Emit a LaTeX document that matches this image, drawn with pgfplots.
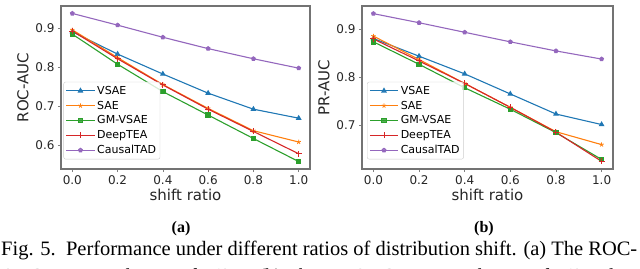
\documentclass[border=0pt]{standalone}
\usepackage{pgfplots}
\pgfplotsset{compat=1.18}
\usepackage{fontspec}
\setmainfont{Liberation Serif}
\newfontfamily\dejavu{DejaVu Sans}
\definecolor{cblue}{HTML}{1F77B4}
\definecolor{corange}{HTML}{FF7F0E}
\definecolor{cgreen}{HTML}{2CA02C}
\definecolor{cred}{HTML}{D62728}
\definecolor{cpurple}{HTML}{9467BD}
\pgfplotsset{
  myax/.style={
    scale only axis,
    xmin=-0.05, xmax=1.05,
    xtick={0,0.2,0.4,0.6,0.8,1.0},
    xticklabel style={/pgf/number format/.cd,fixed,fixed zerofill,precision=1},
    yticklabel style={/pgf/number format/.cd,fixed,fixed zerofill,precision=1},
    /pgf/number format/assume math mode=true,
    tick label style={font=\dejavu\fontsize{12}{13}\selectfont, text=black!85},
    label style={font=\dejavu\fontsize{15}{17}\selectfont, text=black!85},
    xlabel={shift ratio},
    xlabel style={yshift=2pt},
    tick align=outside, tick pos=left,
    major tick length=3pt,
    every tick/.style={gray, line width=0.6pt},
    axis line style={draw=black!55, line width=1.1pt},
    legend cell align=left,
    legend style={draw=black!20, rounded corners=2pt, fill=white, fill opacity=0.8, text opacity=1,
      font=\dejavu\fontsize{11}{12}\selectfont, inner sep=2pt, row sep=1.2pt},
    legend image code/.code={\draw[mark repeat=2,mark phase=2] plot coordinates {(0cm,0cm) (0.5cm,0cm) (1.0cm,0cm)};},
    every axis plot/.append style={line width=1.1pt, mark size=2.3pt},
  }
}
\begin{document}
\begin{tikzpicture}[x=1pt,y=1pt]
\useasboundingbox (0,0) rectangle (640,268);
\clip (0,0) rectangle (640,268);
% (a)
\begin{axis}[myax, at={(61pt,99pt)}, anchor=south west, width=249pt, height=163pt,
  ymin=0.540, ymax=0.957, ytick={0.6,0.7,0.8,0.9}, ylabel={ROC-AUC},
  legend style={at={(0.01,0.535)}, anchor=north west}]
\addplot[cblue, mark=triangle*] coordinates {(0,0.891)(0.2,0.834)(0.4,0.783)(0.6,0.734)(0.8,0.693)(1.0,0.670)};
\addlegendentry{VSAE}
\addplot[corange, mark=star, mark options={line width=0.8pt}] coordinates {(0,0.896)(0.2,0.825)(0.4,0.756)(0.6,0.695)(0.8,0.638)(1.0,0.609)};
\addlegendentry{SAE}
\addplot[cgreen, mark=square*, mark size=2.1pt] coordinates {(0,0.885)(0.2,0.808)(0.4,0.738)(0.6,0.678)(0.8,0.618)(1.0,0.559)};
\addlegendentry{GM-VSAE}
\addplot[cred, mark=+, mark size=3pt, mark options={line width=1pt}] coordinates {(0,0.893)(0.2,0.822)(0.4,0.755)(0.6,0.693)(0.8,0.636)(1.0,0.579)};
\addlegendentry{DeepTEA}
\addplot[cpurple, mark=pentagon*, mark size=1.9pt] coordinates {(0,0.938)(0.2,0.908)(0.4,0.877)(0.6,0.848)(0.8,0.822)(1.0,0.798)};
\addlegendentry{CausalTAD}
\end{axis}
% (b)
\begin{axis}[myax, at={(362pt,99pt)}, anchor=south west, width=251pt, height=163pt,
  ymin=0.608, ymax=0.949, ytick={0.7,0.8,0.9}, ylabel={PR-AUC},
  legend style={at={(0.02,0.535)}, anchor=north west}]
\addplot[cblue, mark=triangle*] coordinates {(0,0.881)(0.2,0.844)(0.4,0.807)(0.6,0.765)(0.8,0.723)(1.0,0.701)};
\addlegendentry{VSAE}
\addplot[corange, mark=star, mark options={line width=0.8pt}] coordinates {(0,0.886)(0.2,0.837)(0.4,0.787)(0.6,0.737)(0.8,0.686)(1.0,0.659)};
\addlegendentry{SAE}
\addplot[cgreen, mark=square*, mark size=2.1pt] coordinates {(0,0.874)(0.2,0.827)(0.4,0.778)(0.6,0.733)(0.8,0.684)(1.0,0.628)};
\addlegendentry{GM-VSAE}
\addplot[cred, mark=+, mark size=3pt, mark options={line width=1pt}] coordinates {(0,0.880)(0.2,0.834)(0.4,0.787)(0.6,0.737)(0.8,0.685)(1.0,0.624)};
\addlegendentry{DeepTEA}
\addplot[cpurple, mark=pentagon*, mark size=1.9pt] coordinates {(0,0.933)(0.2,0.914)(0.4,0.894)(0.6,0.874)(0.8,0.855)(1.0,0.838)};
\addlegendentry{CausalTAD}
\end{axis}
\node[anchor=base, font=\fontsize{16}{18}\selectfont\bfseries] at (181,36) {(a)};
\node[anchor=base, font=\fontsize{16}{18}\selectfont\bfseries] at (484,36) {(b)};
\node[anchor=base west, inner sep=0pt] at (1,13) {\resizebox{636pt}{!}{\fontsize{18}{20}\selectfont Fig. 5.\ \ Performance under different ratios of distribution shift. (a) The ROC-}};
\node[anchor=base west, inner sep=0pt] at (1,-14) {\resizebox{636pt}{!}{\fontsize{18}{20}\selectfont AUC on Porto dataset of Xi'an. (b) The PR-AUC on Porto dataset of Xi'an data}};
\end{tikzpicture}
\end{document}
